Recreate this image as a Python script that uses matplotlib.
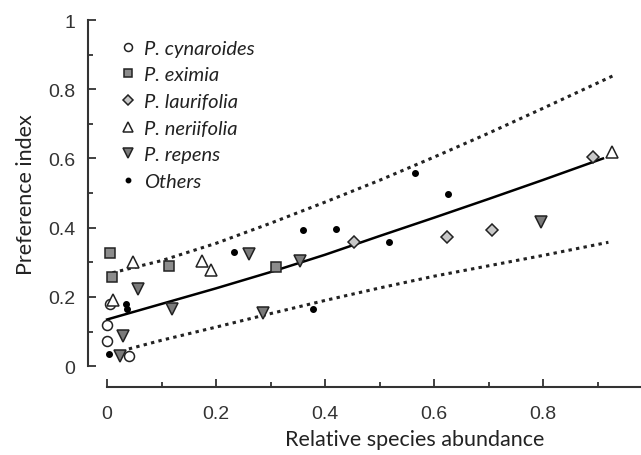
import numpy as np
import matplotlib.pyplot as plt

# species points (relative abundance, preference index)
cyn_x = [0.005, 0.0, 0.0, 0.04]
cyn_y = [0.18, 0.12, 0.073, 0.03]
exi_x = [0.005, 0.009, 0.114, 0.31]
exi_y = [0.328, 0.257, 0.29, 0.287]
lau_x = [0.453, 0.624, 0.706, 0.892]
lau_y = [0.36, 0.374, 0.394, 0.603]
ner_x = [0.011, 0.048, 0.175, 0.19, 0.927]
ner_y = [0.19, 0.30, 0.305, 0.278, 0.62]
rep_x = [0.057, 0.12, 0.03, 0.024, 0.26, 0.354, 0.286, 0.796]
rep_y = [0.223, 0.165, 0.088, 0.03, 0.325, 0.305, 0.154, 0.417]
oth_x = [0.035, 0.037, 0.004, 0.233, 0.36, 0.42, 0.517, 0.378, 0.565, 0.626]
oth_y = [0.18, 0.165, 0.035, 0.33, 0.394, 0.397, 0.36, 0.165, 0.559, 0.496]

# fitted curve and confidence band, read at a few x positions
fit_x = [0.0, 0.1, 0.2, 0.3, 0.4, 0.5, 0.6, 0.7, 0.8, 0.91]
fit_y = [0.135, 0.18, 0.225, 0.272, 0.322, 0.376, 0.429, 0.483, 0.538, 0.600]
up_x = [0.01, 0.1, 0.2, 0.3, 0.4, 0.5, 0.6, 0.7, 0.8, 0.93]
up_y = [0.27, 0.305, 0.355, 0.413, 0.474, 0.537, 0.604, 0.673, 0.745, 0.84]
lo_x = [0.04, 0.1, 0.2, 0.3, 0.4, 0.5, 0.6, 0.7, 0.8, 0.92]
lo_y = [0.05, 0.075, 0.113, 0.152, 0.19, 0.226, 0.26, 0.29, 0.32, 0.358]

label_font = 'Lato'
tick_font = 'Liberation Sans'

fig = plt.figure(figsize=(6.41, 4.56), dpi=100)
W, H = 641, 456
# axes reaches past the right edge like the original crop
ax = fig.add_axes([88 / W, 1 - 388 / H, 564 / W, 367 / H])
ax.set_xlim(-0.035, 1.0)
ax.set_ylim(-0.06, 1.0)

ax.plot(fit_x, fit_y, color='black', lw=1.8, zorder=2)
ax.plot(up_x, up_y, color='#222222', lw=2.2, ls=(0, (1.1, 1.4)), zorder=2)
ax.plot(lo_x, lo_y, color='#222222', lw=2.2, ls=(0, (1.1, 1.4)), zorder=2)

ec = '#222222'
h1, = ax.plot(cyn_x, cyn_y, 'o', ms=7.2, mfc='white', mec=ec, mew=1.1, ls='none', zorder=3)
h2, = ax.plot(exi_x, exi_y, 's', ms=6.5, mfc='#8c8c8c', mec=ec, mew=1.1, ls='none', zorder=3)
h3, = ax.plot(lau_x, lau_y, 'D', ms=6.5, mfc='#c8c8c8', mec=ec, mew=1.1, ls='none', zorder=3)
h4, = ax.plot(ner_x, ner_y, '^', ms=8.5, mfc='white', mec=ec, mew=1.1, ls='none', zorder=3)
h5, = ax.plot(rep_x, rep_y, 'v', ms=8.5, mfc='#7a7a7a', mec=ec, mew=1.1, ls='none', zorder=3)
h6, = ax.plot(oth_x, oth_y, 'o', ms=4, color='black', ls='none', zorder=3)

names = ['P. cynaroides', 'P. eximia', 'P. laurifolia', 'P. neriifolia', 'P. repens', 'Others']
leg = ax.legend([h1, h2, h3, h4, h5, h6], names, loc='upper left',
                bbox_to_anchor=(0.043, 0.968), frameon=False,
                prop={'family': label_font, 'style': 'italic', 'size': 14.5},
                handlelength=0.8, handletextpad=0.4, labelspacing=0.47,
                borderaxespad=0, markerscale=0.8)
for t in leg.get_texts():
    t.set_color('#222222')

for s in ['top', 'right']:
    ax.spines[s].set_visible(False)
ax.spines['left'].set_bounds(0, 1)
ax.spines['bottom'].set_bounds(0, 1)
for s in ['left', 'bottom']:
    ax.spines[s].set_linewidth(1.5)
    ax.spines[s].set_color('#333333')

ax.set_xticks([0, 0.2, 0.4, 0.6, 0.8, 1.0])
ax.set_xticklabels(['0', '0.2', '0.4', '0.6', '0.8', '1'])
ax.set_xticks(np.arange(0.1, 1.0, 0.2), minor=True)
ax.set_yticks([0, 0.2, 0.4, 0.6, 0.8, 1.0])
ax.set_yticklabels(['0', '0.2', '0.4', '0.6', '0.8', '1'])
ax.set_yticks(np.arange(0.1, 1.0, 0.2), minor=True)
ax.tick_params(which='both', direction='in', color='#333333', width=1.3)
ax.tick_params(which='major', length=6)
ax.tick_params(which='minor', length=3.5)
ax.tick_params(axis='x', which='major', pad=13)
ax.tick_params(axis='y', which='major', pad=9)
for lab in ax.get_xticklabels() + ax.get_yticklabels():
    lab.set_fontfamily(tick_font)
    lab.set_fontsize(14)
    lab.set_color('#333333')

ax.set_xlabel('Relative species abundance', fontfamily=label_font, fontsize=15.5,
              color='#222222')
ax.xaxis.set_label_coords((415 - 88) / 564, -(440 - 388) / 367)
ax.set_ylabel('Preference index', fontfamily=label_font, fontsize=15.5,
              color='#222222')
ax.yaxis.set_label_coords(-(88 - 26) / 564, (388 - 195) / 367)
ax.xaxis.label.set_va('center')
ax.yaxis.label.set_va('center')

plt.savefig('out.png', dpi=100)
